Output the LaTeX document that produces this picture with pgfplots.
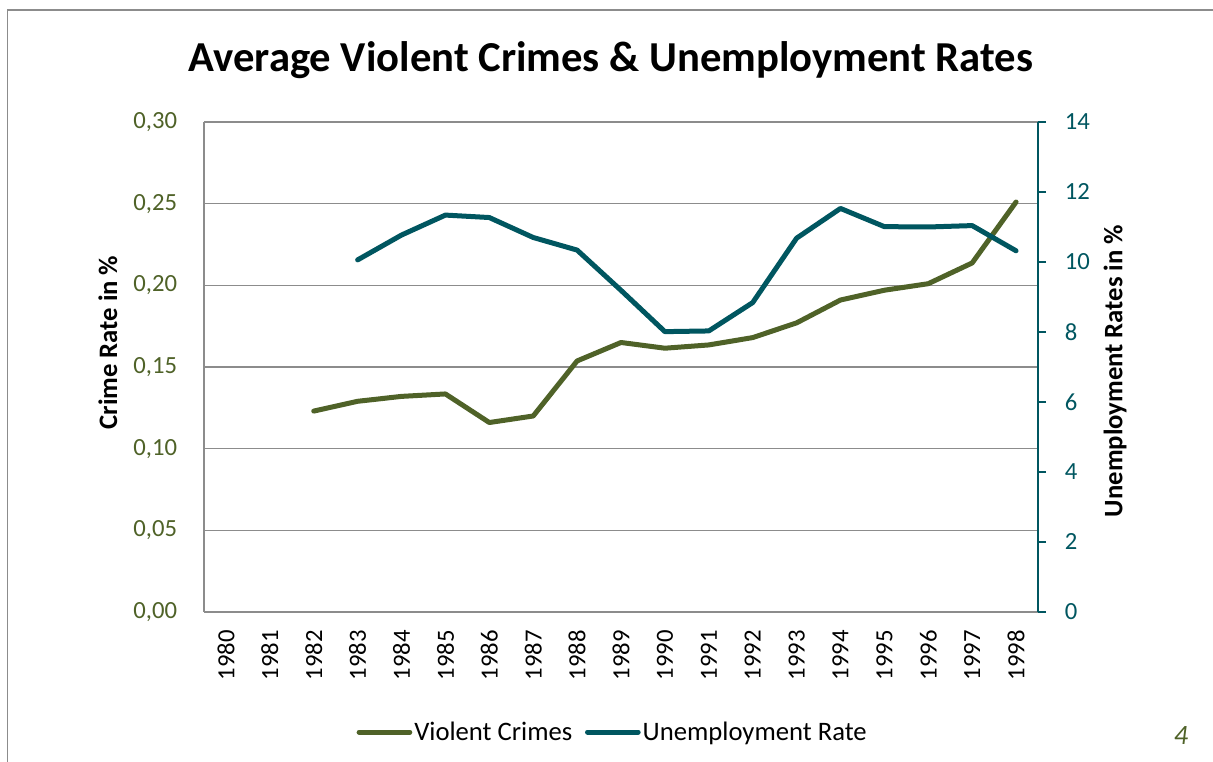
\documentclass[border=0pt]{standalone}
\usepackage{pgfplots}
\pgfplotsset{compat=1.18}
\usepackage{fontspec}
\setmainfont{Carlito}
\definecolor{crimecol}{HTML}{4F6228}
\definecolor{unempcol}{HTML}{005660}
\definecolor{gridgray}{HTML}{8C8C8C}
\begin{document}
\begin{tikzpicture}
\path[use as bounding box] (0pt,0pt) rectangle (909.75pt,571.5pt);
\draw[gridgray, line width=1.2pt] (5.6pt,-5pt) -- (5.6pt,564pt) -- (915pt,564pt);
\node[anchor=base, font=\fontsize{32}{36}\selectfont\bfseries] at (458.25pt,517.5pt) {Average Violent Crimes \& Unemployment Rates};
\node[rotate=90, font=\fontsize{20}{24}\selectfont\bfseries] at (81pt,314.6pt) {Crime Rate in \%};
\node[rotate=90, font=\fontsize{20}{24}\selectfont\bfseries] at (836.25pt,293.25pt) {Unemployment Rates in \%};
\node[font=\fontsize{21}{24}\selectfont\itshape, text=crimecol] at (885.75pt,20pt) {4};
\begin{axis}[
  at={(153pt,112.5pt)}, anchor=south west,
  width=625.5pt, height=367.5pt, scale only axis,
  xmin=-0.5, xmax=18.5, ymin=0, ymax=0.30,
  axis x line*=bottom, axis y line*=left,
  axis line style={gridgray, line width=1.2pt, -},
  xtick={0,...,18},
  xticklabels={1980,1981,1982,1983,1984,1985,1986,1987,1988,1989,1990,1991,1992,1993,1994,1995,1996,1997,1998},
  xticklabel style={rotate=90, anchor=east, inner sep=0pt, font=\fontsize{18.5}{22}\selectfont},
  xticklabel shift=13.5pt,
  ytick={0,0.05,0.10,0.15,0.20,0.25,0.30},
  yticklabel style={text=crimecol, anchor=east, inner sep=0pt, font=\fontsize{18.5}{22}\selectfont,
    /pgf/number format/.cd, fixed, fixed zerofill, precision=2, use comma},
  yticklabel shift=20pt,
  /pgf/number format/assume math mode=true,
  major tick length=0pt,
  ymajorgrids, grid style={gridgray, line width=1.2pt},
  clip=false,
]
\addplot[crimecol, line width=3.75pt, line cap=round, line join=round] coordinates {
(2,0.123) (3,0.129) (4,0.132) (5,0.1335) (6,0.116) (7,0.120) (8,0.1537) (9,0.165)
(10,0.1615) (11,0.1635) (12,0.168) (13,0.177) (14,0.191) (15,0.197) (16,0.201) (17,0.2137) (18,0.251)};
\end{axis}
\begin{axis}[
  at={(153pt,112.5pt)}, anchor=south west,
  width=625.5pt, height=367.5pt, scale only axis,
  xmin=-0.5, xmax=18.5, ymin=0, ymax=14,
  axis x line=none, axis y line*=right,
  axis line style={unempcol, line width=1.2pt, -},
  ytick={0,2,...,14},
  ytick style={unempcol, line width=1.2pt},
  major tick length=6pt, tick align=outside,
  yticklabel style={text=unempcol, anchor=west, inner sep=0pt, font=\fontsize{18.5}{22}\selectfont},
  yticklabel shift=14pt,
  /pgf/number format/assume math mode=true,
  clip=false,
  legend style={draw=none, fill=none, at={(0.490,-0.245)}, anchor=center,
    legend columns=2, font=\fontsize{20}{24}\selectfont,
    /tikz/every even column/.append style={column sep=8pt},
    inner sep=0pt, nodes={inner sep=1.5pt}},
  legend image code/.code={\draw[#1, line cap=round] (0pt,0pt) -- (38pt,0pt);},
]
\addlegendimage{crimecol, line width=3.75pt}
\addlegendentry{Violent Crimes}
\addplot[unempcol, line width=3.75pt, line cap=round, line join=round] coordinates {
(3,10.06) (4,10.77) (5,11.34) (6,11.27) (7,10.70) (8,10.34) (9,9.19) (10,8.01)
(11,8.03) (12,8.84) (13,10.68) (14,11.53) (15,11.01) (16,11.00) (17,11.04) (18,10.32)};
\addlegendentry{Unemployment Rate}
\end{axis}
\end{tikzpicture}
\end{document}
